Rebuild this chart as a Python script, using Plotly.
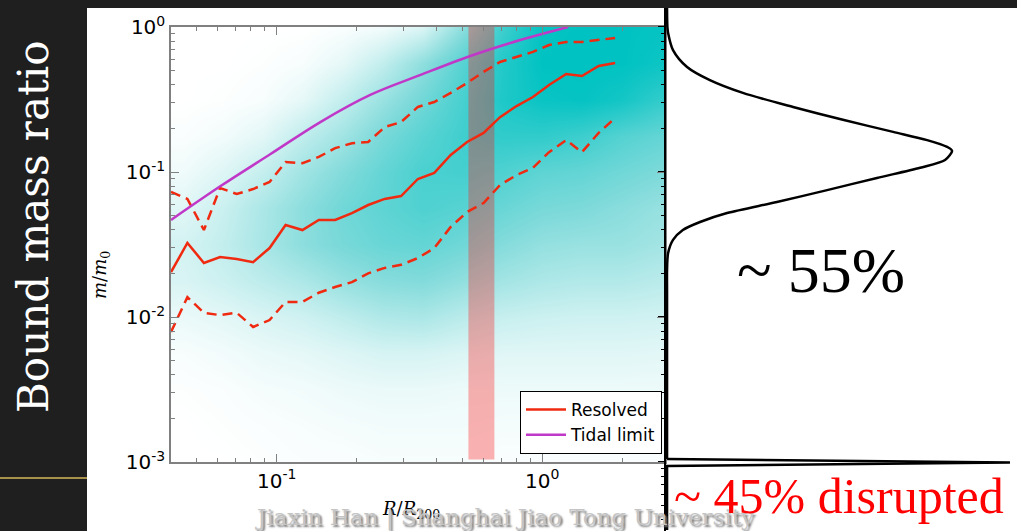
import plotly.graph_objects as go

W, H = 1017, 531

# ---------------- data ----------------
# radial bin centres R/R200 shared by the three "Resolved" curves
R_BINS = [0.040, 0.0461, 0.0532, 0.0612, 0.0707, 0.0815, 0.0940, 0.108, 0.125, 0.144,
          0.166, 0.192, 0.221, 0.255, 0.294, 0.340, 0.392, 0.452, 0.521, 0.601,
          0.693, 0.800, 0.922, 1.06, 1.23, 1.41, 1.63, 1.88]
RESOLVED_MEDIAN = [0.0204, 0.0324, 0.0236, 0.0259, 0.0251, 0.0239, 0.0299, 0.0431, 0.0398, 0.0467,
                   0.0467, 0.0521, 0.0592, 0.0652, 0.0683, 0.0895, 0.0985, 0.131, 0.161, 0.186,
                   0.239, 0.285, 0.329, 0.398, 0.474, 0.459, 0.538, 0.565]
RESOLVED_UPPER = [0.0728, 0.0652, 0.0398, 0.0776, 0.0705, 0.0763, 0.0853, 0.117, 0.115, 0.127,
                  0.146, 0.158, 0.161, 0.204, 0.221, 0.281, 0.304, 0.351, 0.411, 0.490,
                  0.574, 0.621, 0.673, 0.751, 0.789, 0.789, 0.813, 0.840]
RESOLVED_LOWER = [0.00788, 0.0137, 0.0107, 0.0103, 0.0107, 0.00853, 0.00953, 0.0127, 0.0127, 0.0147,
                  0.0161, 0.0174, 0.0200, 0.0218, 0.0229, 0.0255, 0.0299, 0.0418, 0.0530, 0.0611,
                  0.0813, 0.0953, 0.107, 0.137, 0.166, 0.137, 0.186, 0.236]

TIDAL_R = [0.040, 0.0615, 0.0948, 0.146, 0.225, 0.348, 0.536, 0.826, 1.25]
TIDAL_M = [0.0467, 0.080, 0.133, 0.221, 0.340, 0.467, 0.631, 0.813, 1.0]

BAND_R = [0.527, 0.66]

# scatter-cloud density (0 = empty, 1 = saturated), rows = log10(m/m0), cols = log10(R/R200)
DENS_LOGR = [-1.35, -1.2, -1.05, -0.9, -0.75, -0.6, -0.45, -0.3, -0.15, 0.0, 0.15, 0.3, 0.45]
DENS_LOGM = [-3.0, -2.75, -2.5, -2.25, -2.0, -1.75, -1.5, -1.25, -1.0, -0.75, -0.5, -0.25, 0.0]
DENSITY = [
    [0.00, 0.00, 0.01, 0.02, 0.02, 0.03, 0.03, 0.03, 0.02, 0.02, 0.02, 0.02, 0.02],
    [0.00, 0.01, 0.02, 0.03, 0.04, 0.05, 0.05, 0.05, 0.04, 0.04, 0.04, 0.04, 0.04],
    [0.01, 0.02, 0.04, 0.05, 0.07, 0.08, 0.08, 0.07, 0.07, 0.07, 0.07, 0.07, 0.07],
    [0.03, 0.05, 0.08, 0.10, 0.13, 0.16, 0.16, 0.14, 0.12, 0.12, 0.12, 0.12, 0.11],
    [0.08, 0.11, 0.15, 0.19, 0.25, 0.31, 0.33, 0.27, 0.22, 0.20, 0.19, 0.19, 0.18],
    [0.15, 0.20, 0.26, 0.32, 0.41, 0.47, 0.49, 0.43, 0.36, 0.32, 0.30, 0.30, 0.27],
    [0.17, 0.24, 0.34, 0.45, 0.53, 0.59, 0.61, 0.56, 0.48, 0.42, 0.40, 0.40, 0.36],
    [0.12, 0.21, 0.33, 0.45, 0.56, 0.63, 0.69, 0.66, 0.59, 0.53, 0.51, 0.46, 0.41],
    [0.06, 0.13, 0.23, 0.37, 0.49, 0.61, 0.71, 0.73, 0.69, 0.63, 0.61, 0.56, 0.51],
    [0.02, 0.05, 0.11, 0.25, 0.37, 0.53, 0.65, 0.75, 0.81, 0.81, 0.76, 0.67, 0.61],
    [0.00, 0.01, 0.03, 0.10, 0.24, 0.40, 0.56, 0.72, 0.88, 0.96, 0.98, 0.92, 0.80],
    [0.00, 0.00, 0.01, 0.03, 0.10, 0.24, 0.44, 0.66, 0.86, 1.00, 1.00, 1.00, 0.95],
    [0.00, 0.00, 0.00, 0.00, 0.02, 0.05, 0.14, 0.45, 0.75, 0.98, 1.00, 1.00, 0.98],
]

# side panel: distribution of bound mass ratio (relative width)
DIST_M = [1.35, 1.0, 0.91, 0.693, 0.530, 0.430, 0.351, 0.281, 0.229, 0.189, 0.166, 0.149, 0.140,
          0.121, 0.107, 0.091, 0.075, 0.0621, 0.0521, 0.0452, 0.0398, 0.0340, 0.0276, 0.0211,
          0.0150, 0.00105]
DIST_W = [0.003, 0.004, 0.006, 0.020, 0.060, 0.125, 0.219, 0.362, 0.504, 0.647, 0.744, 0.801, 0.815,
          0.795, 0.724, 0.601, 0.459, 0.316, 0.174, 0.097, 0.048, 0.020, 0.006, 0.003,
          0.003, 0.003]
# disrupted spike at the bottom (1e-3)
SPIKE_M = [0.00105, 0.00099, 0.00094, 0.00034]
SPIKE_W = [0.003, 0.98, 0.003, 0.003]

Y_TICKS = [0.001, 0.01, 0.1, 1]
Y_TICKTEXT = ["10<sup>-3</sup>", "10<sup>-2</sup>", "10<sup>-1</sup>", "10<sup>0</sup>"]
X_TICKS = [0.1, 1]
X_TICKTEXT = ["10<sup>-1</sup>", "10<sup>0</sup>"]

# ---------------- layout helpers ----------------
def fx(p):
    return p / W

def fy(p):
    return 1 - p / H

MAIN_X = [fx(171), fx(665)]
MAIN_Y = [fy(462), fy(27)]

RED = "#f02a10"
PURPLE = "#c038c8"

fig = go.Figure()

# density cloud on hidden linear base axes (log units)
fig.add_trace(go.Heatmap(
    x=DENS_LOGR, y=DENS_LOGM, z=DENSITY, zmin=0, zmax=1, zsmooth="best",
    colorscale=[[0, "#ffffff"], [0.5, "#80dada"], [1, "#00c2c2"]],
    showscale=False, hoverinfo="skip", xaxis="x", yaxis="y"))

# pink band
fig.add_trace(go.Scatter(
    x=[BAND_R[0], BAND_R[1], BAND_R[1], BAND_R[0], BAND_R[0]],
    y=[Y_TICKS[0] * 1.04, Y_TICKS[0] * 1.04, Y_TICKS[-1], Y_TICKS[-1], Y_TICKS[0] * 1.04],
    fill="toself", fillcolor="rgba(255,20,20,0.33)", line=dict(width=0),
    mode="lines", showlegend=False, hoverinfo="skip", xaxis="x2", yaxis="y2"))

for ys in (RESOLVED_UPPER, RESOLVED_LOWER):
    fig.add_trace(go.Scatter(x=R_BINS, y=ys, mode="lines",
                             line=dict(color=RED, width=2.5, dash="10px,6px"),
                             showlegend=False, xaxis="x2", yaxis="y2"))

fig.add_trace(go.Scatter(x=R_BINS, y=RESOLVED_MEDIAN, mode="lines", name="Resolved",
                         line=dict(color=RED, width=2.5), xaxis="x2", yaxis="y2"))
fig.add_trace(go.Scatter(x=TIDAL_R, y=TIDAL_M, mode="lines", name="Tidal limit",
                         line=dict(color=PURPLE, width=2.5, shape="spline"),
                         xaxis="x2", yaxis="y2"))

# side panel distribution
fig.add_trace(go.Scatter(x=DIST_W, y=DIST_M, mode="lines",
                         line=dict(color="black", width=2.5, shape="spline", smoothing=0.8),
                         showlegend=False, xaxis="x3", yaxis="y3"))
fig.add_trace(go.Scatter(x=SPIKE_W, y=SPIKE_M, mode="lines", line=dict(color="black", width=2.5),
                         showlegend=False, xaxis="x3", yaxis="y3"))

axis_common = dict(showgrid=False, zeroline=False, automargin=False)
tickfont = dict(family="DejaVu Sans", size=20, color="black")


def note(text, x, y, size, color, family, angle=0, **kw):
    return dict(text=text, xref="paper", yref="paper", x=fx(x), y=fy(y),
                xanchor="center", yanchor="middle", textangle=angle, showarrow=False,
                font=dict(family=family, size=size, color=color, **kw))


fig.update_layout(
    width=W, height=H, autosize=False,
    margin=dict(l=0, r=0, t=0, b=0, pad=0, autoexpand=False),
    paper_bgcolor="#1f1f1f",
    plot_bgcolor="white",
    xaxis=dict(domain=MAIN_X, range=[-1.398, 0.462], visible=False, **axis_common),
    yaxis=dict(domain=MAIN_Y, range=[-3, 0], visible=False, **axis_common),
    xaxis2=dict(type="log", overlaying="x", anchor="y2", range=[-1.398, 0.462],
                tickvals=X_TICKS, ticktext=X_TICKTEXT, tickfont=tickfont,
                ticks="inside", ticklen=8, tickcolor="#808080", tickwidth=1,
                showline=True, linecolor="#808080", linewidth=1.5, mirror="ticks",
                minor=dict(ticks="inside", ticklen=4, tickcolor="#808080", dtick="D1", showgrid=False),
                **axis_common),
    yaxis2=dict(type="log", overlaying="y", anchor="x2", range=[-3, 0],
                tickvals=Y_TICKS, ticktext=Y_TICKTEXT, tickfont=tickfont,
                ticks="inside", ticklen=8, tickcolor="#808080", tickwidth=1,
                showline=True, linecolor="#808080", linewidth=1.5, mirror="ticks",
                minor=dict(ticks="inside", ticklen=4, tickcolor="#808080", dtick="D1", showgrid=False),
                **axis_common),
    xaxis3=dict(domain=[fx(666), 1.0], range=[0, 1], visible=False, anchor="y3", **axis_common),
    yaxis3=dict(domain=[0, fy(8)], type="log", range=[-3.476, 0.131], anchor="x3",
                showline=True, linecolor="black", linewidth=2, ticks="outside", ticklen=6,
                tickcolor="black", showticklabels=False, tickvals=Y_TICKS,
                minor=dict(ticks="outside", ticklen=3, tickcolor="black", dtick="D1", showgrid=False),
                **axis_common),
    legend=dict(x=fx(662), y=fy(454), xanchor="right", yanchor="bottom",
                bgcolor="white", bordercolor="black", borderwidth=1,
                font=dict(family="DejaVu Sans", size=17, color="black"),
                tracegroupgap=0, itemwidth=40),
    shapes=[
        dict(type="rect", xref="paper", yref="paper", x0=fx(87), x1=1, y0=0, y1=fy(8),
             fillcolor="white", line=dict(width=0), layer="below"),
        dict(type="line", xref="paper", yref="paper", x0=0, x1=fx(87), y0=fy(478), y1=fy(478),
             line=dict(color="#a8914a", width=2)),
    ],
    annotations=[
        note("Bound mass ratio", 33, 227, 42, "white", "DejaVu Serif", angle=-90),
        note("<i>m</i>/<i>m</i><sub>0</sub>", 101, 275, 18, "black", "DejaVu Serif", angle=-90),
        note("<i>R</i>/<i>R</i><sub>200</sub>", 411, 510, 18, "black", "DejaVu Serif"),
        note("Jiaxin Han | Shanghai Jiao Tong University", 504, 517, 23, "#c4c4c4", "DejaVu Serif",
             shadow="2px 2px 2px #7a7a7a"),
        note("~ 55%", 821, 270, 64, "black", "Liberation Serif"),
        note("~ 45% disrupted", 839, 496, 50, "#ff0000", "Liberation Serif"),
    ],
)

fig.write_html("out.html")
